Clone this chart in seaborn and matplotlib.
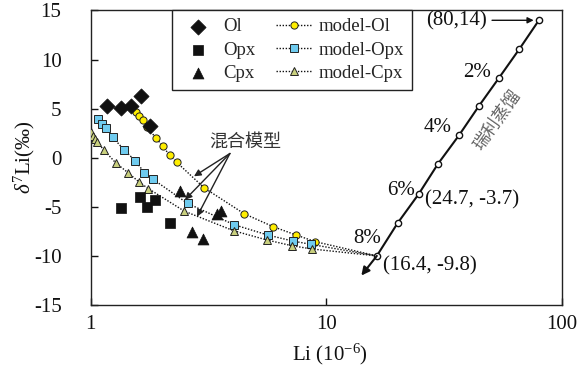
import matplotlib
matplotlib.use("Agg")
import matplotlib.pyplot as plt
import seaborn as sns
import numpy as np
import pandas as pd
from matplotlib.ticker import FixedLocator, FixedFormatter, NullLocator

# ---------------- data ----------------
ol_li = [1.173, 1.342, 1.490, 1.636, 1.786]
ol_d7 = [5.23, 5.07, 5.23, 6.31, 3.22]

opx_li = [1.345, 1.620, 1.739, 1.884, 2.178]
opx_d7 = [-5.17, -3.97, -5.06, -4.26, -6.69]

cpx_li = [2.383, 2.701, 3.007, 3.438, 3.575]
cpx_d7 = [-3.38, -7.60, -8.28, -5.75, -5.39]

mod_ol_li = [1.561, 1.608, 1.660, 1.726, 1.894, 2.018, 2.171, 2.314, 3.037, 4.489, 5.963, 7.443, 8.990, 16.4]
mod_ol_d7 = [4.62, 4.21, 3.88, 3.12, 2.03, 1.18, 0.23, -0.45, -3.08, -5.71, -7.03, -7.87, -8.55, -10.0]

mod_opx_li = [1.079, 1.120, 1.156, 1.238, 1.389, 1.547, 1.692, 1.835, 2.582, 4.072, 5.643, 7.193, 8.646, 16.4]
mod_opx_d7 = [3.95, 3.44, 2.99, 2.09, 0.79, -0.32, -1.52, -2.18, -4.66, -6.83, -7.87, -8.48, -8.83, -10.0]

mod_cpx_li = [1.000, 1.018, 1.041, 1.066, 1.137, 1.278, 1.443, 1.600, 1.755, 2.497, 4.048, 5.604, 7.143, 8.664, 16.4]
mod_cpx_d7 = [2.61, 2.21, 1.90, 1.60, 0.79, -0.53, -1.54, -2.45, -3.14, -5.44, -7.44, -8.38, -8.96, -9.29, -10.0]

ray_li = [80.0, 66.1, 54.3, 44.6, 36.6, 29.8, 24.7, 20.1, 16.4]
ray_d7 = [14.0, 11.07, 8.17, 5.30, 2.27, -0.64, -3.7, -6.66, -10.0]

pct_labels = ["2%", "4%", "6%", "8%"]
x_ticks = [1, 10, 100]
x_tick_labels = ["1", "10", "100"]
y_ticks = [-15, -10, -5, 0, 5, 10, 15]

# ---------------- style ----------------
sns.set_theme(style="ticks")
plt.rcParams["font.family"] = ["Liberation Serif", "Noto Sans CJK SC", "DejaVu Sans"]
plt.rcParams["mathtext.fontset"] = "custom"
plt.rcParams["mathtext.rm"] = "Liberation Serif"
plt.rcParams["mathtext.it"] = "Liberation Serif:italic"
plt.rcParams["axes.unicode_minus"] = False
plt.rcParams["axes.edgecolor"] = "#222222"
plt.rcParams["axes.linewidth"] = 1.0

fig = plt.figure(figsize=(5.81, 3.70), dpi=100)
ax = fig.add_axes([0.1561, 0.1757, 0.8107, 0.796])
ax.set_xscale("log")

BLACK = "#111111"

# measured phases
sns.scatterplot(x=ol_li, y=ol_d7, ax=ax, marker="D", s=60, color=BLACK,
                edgecolor=BLACK, linewidth=0.5, label="Ol", zorder=5)
sns.scatterplot(x=opx_li, y=opx_d7, ax=ax, marker="s", s=50, color=BLACK,
                edgecolor=BLACK, linewidth=0.5, label="Opx", zorder=5)
sns.scatterplot(x=cpx_li, y=cpx_d7, ax=ax, marker="^", s=62, color=BLACK,
                edgecolor=BLACK, linewidth=0.5, label="Cpx", zorder=5)

# mixing models
def model(li, d7, marker, fc, ms, label):
    df = pd.DataFrame({"li": li, "d7": d7})
    sns.lineplot(data=df, x="li", y="d7", ax=ax, sort=False, estimator=None,
                 color=BLACK, linestyle=(0, (1, 1.2)), linewidth=1.0,
                 marker=marker, markersize=ms, markerfacecolor=fc,
                 markeredgecolor="#222222", markeredgewidth=0.7,
                 markevery=list(range(len(li) - 1)), label=label, zorder=4)

model(mod_ol_li, mod_ol_d7, "o", "#ffee00", 5.2, "model-Ol")
model(mod_opx_li, mod_opx_d7, "s", "#6fcbef", 5.2, "model-Opx")
model(mod_cpx_li, mod_cpx_d7, "^", "#c9d07e", 5.8, "model-Cpx")

# Rayleigh distillation line
rdf = pd.DataFrame({"li": ray_li, "d7": ray_d7})
sns.lineplot(data=rdf, x="li", y="d7", ax=ax, sort=False, estimator=None,
             color=BLACK, linewidth=1.5, marker="o", markersize=4.5,
             markerfacecolor="white", markeredgecolor=BLACK,
             markeredgewidth=1.0, legend=False, zorder=6)
ax.annotate("", xy=(14.1, -12.0), xytext=(ray_li[-1], ray_d7[-1]),
            arrowprops=dict(arrowstyle="-|>", color=BLACK, lw=1.5,
                            mutation_scale=12, shrinkA=0, shrinkB=0), zorder=6)

# annotations
fs = 15
ax.text(50.1, 8.64, pct_labels[0], ha="right", va="center", fontsize=fs, color=BLACK)
ax.text(34.2, 3.07, pct_labels[1], ha="right", va="center", fontsize=fs, color=BLACK)
ax.text(23.8, -3.3, pct_labels[2], ha="right", va="center", fontsize=fs, color=BLACK)
ax.text(17.1, -8.2, pct_labels[3], ha="right", va="center", fontsize=fs, color=BLACK)
ax.text(48.2, 13.96, "(80,14)", ha="right", va="center", fontsize=fs, color=BLACK)
ax.annotate("", xy=(76.0, 14.0), xytext=(50.6, 14.0),
            arrowprops=dict(arrowstyle="-|>", color=BLACK, lw=1.0,
                            mutation_scale=9, shrinkA=0, shrinkB=0))
ax.text(26.3, -4.26, "(24.7, -3.7)", ha="left", va="center", fontsize=fs, color=BLACK)
ax.text(17.43, -11.0, "(16.4, -9.8)", ha="left", va="center", fontsize=fs, color=BLACK)

ax.text(53.1, 3.9, "瑞利蒸馏", ha="center", va="center", rotation=55,
        rotation_mode="anchor", fontsize=12.5, color="#666666",
        family=["Noto Sans CJK SC"])

ax.text(4.52, 1.55, "混合模型", ha="center", va="center", fontsize=13,
        color="#333333", family=["Noto Sans CJK SC"])
for hx, hy in [(2.745, -1.89), (2.514, -4.28), (2.828, -6.0)]:
    ax.annotate("", xy=(hx, hy), xytext=(3.90, 0.43),
                arrowprops=dict(arrowstyle="-|>", color="#222222", lw=1.0,
                                mutation_scale=10, shrinkA=0, shrinkB=0))

# axes
ax.set_xlim(1, 100)
ax.set_ylim(-15, 15)
ax.xaxis.set_major_locator(FixedLocator(x_ticks))
ax.xaxis.set_major_formatter(FixedFormatter(x_tick_labels))
ax.xaxis.set_minor_locator(NullLocator())
ax.yaxis.set_major_locator(FixedLocator(y_ticks))
ax.tick_params(axis="both", direction="in", length=5, width=1.0,
               labelsize=15, colors=BLACK, top=False, right=False)
ax.tick_params(axis="x", pad=7)
ax.tick_params(axis="y", pad=21)
for sp in ax.spines.values():
    sp.set_visible(True)
    sp.set_color("#222222")

ax.set_xlabel("Li (10$^{-6}$)", fontsize=15, color=BLACK)
ax.set_ylabel(r"$\delta^{7}$Li(‰)", fontsize=15, color=BLACK)
ax.xaxis.set_label_coords(0.508, -0.125)
ax.yaxis.set_label_coords(-0.114, 0.5)

handles, labels = ax.get_legend_handles_labels()
order = ["Ol", "Opx", "Cpx", "model-Ol", "model-Opx", "model-Cpx"]
hd = dict(zip(labels, handles))
leg = ax.legend([hd[k] for k in order], order, loc="upper left",
                bbox_to_anchor=(0.1726, 1.0), ncol=2, fontsize=13.5,
                frameon=True, fancybox=False, framealpha=1, edgecolor="#222222",
                borderaxespad=0, handlelength=1.9, handletextpad=0.4,
                columnspacing=1.1, labelspacing=0.32, borderpad=0.42,
                scatterpoints=1)
leg.get_frame().set_linewidth(1.0)

fig.savefig("out.png", dpi=100)
